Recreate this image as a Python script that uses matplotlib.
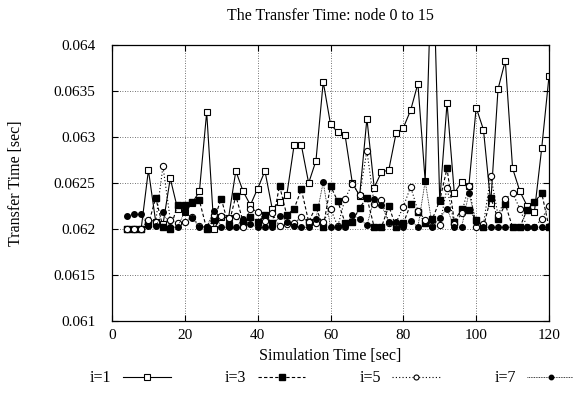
import matplotlib
matplotlib.use("Agg")
import matplotlib.pyplot as plt

plt.rcParams['font.family'] = ['Liberation Serif', 'DejaVu Serif']

sim_time = list(range(4, 121, 2))

transfer_i1 = [0.06200, 0.06200, 0.06200, 0.06264, 0.06208, 0.06205, 0.06255, 0.06222, 0.06218, 0.06228,
               0.06241, 0.06327, 0.06200, 0.06213, 0.06212, 0.06263, 0.06241, 0.06226, 0.06244, 0.06263,
               0.06222, 0.06229, 0.06237, 0.06291, 0.06291, 0.06250, 0.06274, 0.06360, 0.06314, 0.06305,
               0.06302, 0.06250, 0.06236, 0.06320, 0.06245, 0.06262, 0.06264, 0.06304, 0.06310, 0.06329,
               0.06358, 0.06252, 0.06520, 0.06230, 0.06337, 0.06239, 0.06251, 0.06247, 0.06332, 0.06308,
               0.06228, 0.06352, 0.06383, 0.06266, 0.06241, 0.06225, 0.06219, 0.06288, 0.06366]

transfer_i3 = [0.06200, 0.06200, 0.06200, 0.06205, 0.06234, 0.06202, 0.06200, 0.06226, 0.06226, 0.06229,
               0.06231, 0.06200, 0.06210, 0.06233, 0.06204, 0.06236, 0.06208, 0.06213, 0.06208, 0.06215,
               0.06206, 0.06247, 0.06215, 0.06222, 0.06243, 0.06208, 0.06224, 0.06202, 0.06247, 0.06230,
               0.06207, 0.06208, 0.06223, 0.06234, 0.06202, 0.06202, 0.06225, 0.06202, 0.06206, 0.06227,
               0.06219, 0.06206, 0.06211, 0.06231, 0.06266, 0.06208, 0.06222, 0.06221, 0.06210, 0.06202,
               0.06234, 0.06211, 0.06227, 0.06202, 0.06202, 0.06221, 0.06229, 0.06239, 0.06202]

transfer_i5 = [0.06200, 0.06200, 0.06200, 0.06210, 0.06208, 0.06268, 0.06210, 0.06206, 0.06208, 0.06213,
               0.06203, 0.06202, 0.06215, 0.06214, 0.06212, 0.06214, 0.06202, 0.06222, 0.06219, 0.06209,
               0.06217, 0.06203, 0.06205, 0.06206, 0.06213, 0.06208, 0.06206, 0.06208, 0.06222, 0.06203,
               0.06233, 0.06249, 0.06237, 0.06285, 0.06227, 0.06232, 0.06207, 0.06207, 0.06224, 0.06246,
               0.06220, 0.06210, 0.06203, 0.06204, 0.06245, 0.06205, 0.06217, 0.06247, 0.06202, 0.06205,
               0.06258, 0.06215, 0.06233, 0.06239, 0.06222, 0.06202, 0.06202, 0.06211, 0.06225]

transfer_i7 = [0.06214, 0.06216, 0.06216, 0.06203, 0.06203, 0.06219, 0.06202, 0.06202, 0.06219, 0.06212,
               0.06202, 0.06202, 0.06220, 0.06202, 0.06202, 0.06202, 0.06211, 0.06205, 0.06202, 0.06202,
               0.06202, 0.06214, 0.06208, 0.06203, 0.06202, 0.06202, 0.06211, 0.06251, 0.06202, 0.06202,
               0.06202, 0.06215, 0.06211, 0.06204, 0.06233, 0.06226, 0.06208, 0.06208, 0.06202, 0.06209,
               0.06202, 0.06252, 0.06202, 0.06212, 0.06222, 0.06202, 0.06202, 0.06239, 0.06208, 0.06202,
               0.06202, 0.06202, 0.06202, 0.06202, 0.06202, 0.06202, 0.06202, 0.06202, 0.06202]

labels = ["i=1", "i=3", "i=5", "i=7"]
x_ticks = [0, 20, 40, 60, 80, 100, 120]
y_ticks = [0.061, 0.0615, 0.062, 0.0625, 0.063, 0.0635, 0.064]
y_tick_labels = ["0.061", "0.0615", "0.062", "0.0625", "0.063", "0.0635", "0.064"]

FS = 11.5

fig = plt.figure(figsize=(5.73, 4.01), dpi=100)
ax = fig.add_axes([112/573, 1-321/401, (549-112)/573, (321-45)/401])

ax.plot(sim_time, transfer_i1, color='black', lw=0.8, ls='-', marker='s', ms=5,
        mfc='white', mec='black', mew=0.8, label=labels[0])
ax.plot(sim_time, transfer_i3, color='black', lw=0.8, ls=(0, (3, 2)), marker='s', ms=5,
        mfc='black', mec='black', label=labels[1])
ax.plot(sim_time, transfer_i5, color='black', lw=0.8, ls=(0, (1, 2)), marker='o', ms=4.5,
        mfc='white', mec='black', mew=0.8, label=labels[2])
ax.plot(sim_time, transfer_i7, color='black', lw=0.6, ls=(0, (1, 1)), marker='o', ms=4,
        mfc='black', mec='black', label=labels[3])

ax.set_xlim(0, 120)
ax.set_ylim(0.061, 0.064)
ax.set_xticks(x_ticks)
ax.set_yticks(y_ticks)
ax.set_yticklabels(y_tick_labels)
ax.tick_params(direction='in', top=True, right=True, labelsize=11, length=4, width=0.8)
ax.tick_params(axis='y', pad=12)
ax.tick_params(axis='x', pad=6)
ax.grid(True, color='#444444', ls=(0, (1, 2)), lw=0.6)
for s in ax.spines.values():
    s.set_linewidth(0.9)

ax.set_title("The Transfer Time: node 0 to 15", fontsize=FS, pad=18)
ax.set_xlabel("Simulation Time [sec]", fontsize=FS, labelpad=4)
ax.set_ylabel("Transfer Time [sec]", fontsize=FS, labelpad=21)

leg = ax.legend(loc='center', bbox_to_anchor=(0.505, -0.207), ncol=4, frameon=False,
                markerfirst=False, numpoints=1, fontsize=FS, handlelength=3.0,
                handletextpad=0.7, columnspacing=3.4, markerscale=0.8)

fig.savefig("out.png", dpi=100)
